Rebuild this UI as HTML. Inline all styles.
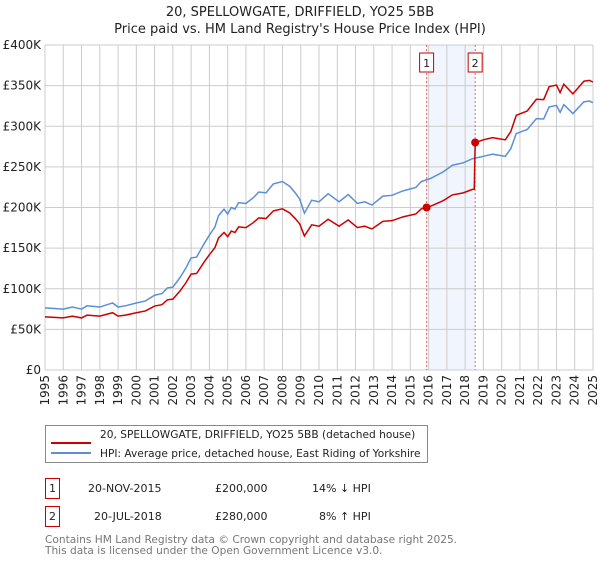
<!DOCTYPE html>
<html><head><meta charset="utf-8"><style>
body{margin:0;background:#fff;font-family:"DejaVu Sans","Liberation Sans",sans-serif;}
svg text{font-family:"DejaVu Sans","Liberation Sans",sans-serif;}
</style></head><body>
<svg id="c" width="600" height="560" xmlns="http://www.w3.org/2000/svg">
<text x="300" y="16" text-anchor="middle" font-size="13" fill="#222">20, SPELLOWGATE, DRIFFIELD, YO25 5BB</text>
<text x="300" y="33" text-anchor="middle" font-size="13" fill="#222">Price paid vs. HM Land Registry's House Price Index (HPI)</text>
<g id="grid"></g><g id="series"></g><g id="axes"></g>
<g>
<rect x="45.5" y="425.5" width="382" height="37" fill="#fff" stroke="#888"/>
<line x1="51" y1="443" x2="91" y2="443" stroke="#cc0000" stroke-width="2"/>
<text x="100" y="438" font-size="10.6" fill="#222">20, SPELLOWGATE, DRIFFIELD, YO25 5BB (detached house)</text>
<line x1="51" y1="453" x2="91" y2="453" stroke="#5b8fd6" stroke-width="2"/>
<text x="100" y="457" font-size="10.6" fill="#222">HPI: Average price, detached house, East Riding of Yorkshire</text>
</g>
<g font-size="11" fill="#222">
<rect x="45.5" y="478.5" width="14" height="20" fill="#fff" stroke="#cc0000"/>
<text x="52.5" y="492" text-anchor="middle">1</text>
<text x="88" y="492">20-NOV-2015</text>
<text x="215" y="492">£200,000</text>
<text x="312" y="492">14% ↓ HPI</text>
<rect x="45.5" y="506.5" width="14" height="20" fill="#fff" stroke="#cc0000"/>
<text x="52.5" y="520" text-anchor="middle">2</text>
<text x="94" y="520">20-JUL-2018</text>
<text x="215" y="520">£280,000</text>
<text x="319" y="520">8% ↑ HPI</text>
</g>
<text x="45" y="543" font-size="10.6" fill="#777">Contains HM Land Registry data © Crown copyright and database right 2025.</text>
<text x="45" y="554" font-size="10.6" fill="#777">This data is licensed under the Open Government Licence v3.0.</text>
</svg>
<script>
const hpiYears=[1995.0,1996.0,1996.5,1997.0,1997.3,1998.0,1998.7,1999.0,1999.4,2000.0,2000.5,2001.0,2001.4,2001.7,2002.0,2002.4,2002.7,2003.0,2003.3,2003.7,2004.0,2004.3,2004.5,2004.8,2005.0,2005.2,2005.4,2005.6,2006.0,2006.4,2006.7,2007.1,2007.5,2008.0,2008.4,2008.7,2008.95,2009.2,2009.6,2010.0,2010.5,2011.1,2011.6,2012.1,2012.5,2012.9,2013.5,2014.0,2014.6,2015.3,2015.6,2016.1,2016.8,2017.3,2017.9,2018.4,2019.0,2019.5,2020.2,2020.5,2020.8,2021.4,2021.9,2022.3,2022.6,2023.0,2023.2,2023.4,2023.9,2024.5,2024.8,2025.0];
const hpiValues=[76.5,75,77.5,75,79,77.5,82.5,77.5,79,82.5,85,92,94,101,102,114,125,138,139,155,166,176,190,198,192,200,198,206,205,212,219,218,229,232,226,218,210,193,209,207,217,207,216,205,207,203,214,215,220.5,224.6,232,235.7,243.8,252,255,260,263,265.6,263,272.5,291,296,309.4,309,323.8,325.6,317,326.6,315.6,330,331,329];
const priceYears=[1995.0,1996.0,1996.5,1997.0,1997.3,1998.0,1998.7,1999.0,1999.4,2000.0,2000.5,2001.0,2001.4,2001.7,2002.0,2002.4,2002.7,2003.0,2003.3,2003.7,2004.0,2004.3,2004.5,2004.8,2005.0,2005.2,2005.4,2005.6,2006.0,2006.4,2006.7,2007.1,2007.5,2008.0,2008.4,2008.7,2008.95,2009.2,2009.6,2010.0,2010.5,2011.1,2011.6,2012.1,2012.5,2012.9,2013.5,2014.0,2014.6,2015.3,2015.6,2015.89,2016.1,2016.8,2017.3,2017.9,2018.4,2018.5,2018.55,2019.0,2019.5,2020.2,2020.5,2020.8,2021.4,2021.9,2022.3,2022.6,2023.0,2023.2,2023.4,2023.9,2024.5,2024.8,2025.0];
const priceValues=[65.4,64.1,66.3,64.1,67.5,66.3,70.5,66.3,67.5,70.5,72.7,78.7,80.4,86.4,87.2,97.5,106.9,118,118.8,132.5,141.9,150.5,162.5,169.3,164.2,171,169.3,176.1,175.3,181.3,187.2,186.4,195.8,198.4,193.2,186.4,179.6,165,178.7,177,185.5,177,184.7,175.3,177,173.6,183,183.8,188.5,192,198.4,200,201.5,208.4,215.5,218,222.3,222.5,280,283.3,286,283.3,293.5,313.4,318.8,333.2,332.8,348.7,350.7,341.4,351.7,339.9,355.4,356.5,354.3];
const saleYears=[2015.89,2018.55];
const saleValues=[200,280];
const saleLabels=["1","2"];
const yTicks=[0,50,100,150,200,250,300,350,400];
const yTickLabels=["£0","£50K","£100K","£150K","£200K","£250K","£300K","£350K","£400K"];
const xTicks=[1995,1996,1997,1998,1999,2000,2001,2002,2003,2004,2005,2006,2007,2008,2009,2010,2011,2012,2013,2014,2015,2016,2017,2018,2019,2020,2021,2022,2023,2024,2025];

const X0=45,X1=593,Y0=370,Y1=45;
const xs=y=>X0+(y-1995)/30*(X1-X0);
const ys=v=>Y0-v/400*(Y0-Y1);
const NS="http://www.w3.org/2000/svg";
function mk(tag,attrs,parent){const e=document.createElementNS(NS,tag);for(const k in attrs)e.setAttribute(k,attrs[k]);parent.appendChild(e);return e;}
const grid=document.getElementById('grid'),ser=document.getElementById('series'),ax=document.getElementById('axes');
const band=mk('rect',{x:xs(saleYears[0]),y:Y1,width:xs(saleYears[1])-xs(saleYears[0]),height:Y0-Y1,fill:'#eef3fc',opacity:0.8},grid);


yTicks.forEach((t,i)=>{
 const l=mk('line',{x1:X0,x2:X1,y1:ys(t),y2:ys(t),stroke:'#cccccc','stroke-width':1},grid);
 
 
 const tx=mk('text',{x:X0-4,y:ys(t)+4,'text-anchor':'end','font-size':12,fill:'#222'},ax);
 tx.textContent=yTickLabels[i];
 
 
});
xTicks.forEach(t=>{
 const l=mk('line',{x1:xs(t),x2:xs(t),y1:Y1,y2:Y0,stroke:'#cccccc','stroke-width':1},grid);
 
 
 const tx=mk('text',{x:0,y:0,'text-anchor':'end','font-size':12,fill:'#222',transform:`translate(${xs(t)+4},${Y0+5}) rotate(-90)`},ax);
 tx.textContent=t;
 
 
});
saleYears.forEach((y,i)=>{
 const l=mk('line',{x1:xs(y),x2:xs(y),y1:Y1,y2:Y0,stroke:'#e06666','stroke-width':1,'stroke-dasharray':'2,2'},grid);
 
 
 const r=mk('rect',{x:xs(y)-7,y:53,width:14,height:19,fill:'#fff',stroke:'#cc0000'},ax);
 
 
 const tx=mk('text',{x:xs(y),y:67,'text-anchor':'middle','font-size':11,fill:'#222'},ax);
 tx.textContent=saleLabels[i];
 
 
});
const hp=mk('polyline',{points:hpiYears.map((y,i)=>xs(y)+','+ys(hpiValues[i])).join(' '),fill:'none',stroke:'#5b8fd6','stroke-width':1.5},ser);


const pp=mk('polyline',{points:priceYears.map((y,i)=>xs(y)+','+ys(priceValues[i])).join(' '),fill:'none',stroke:'#cc0000','stroke-width':1.5},ser);


saleYears.forEach((y,i)=>{
 const c=mk('circle',{cx:xs(y),cy:ys(saleValues[i]),r:4,fill:'#cc0000'},ser);
 
 
});
</script>
</body></html>
